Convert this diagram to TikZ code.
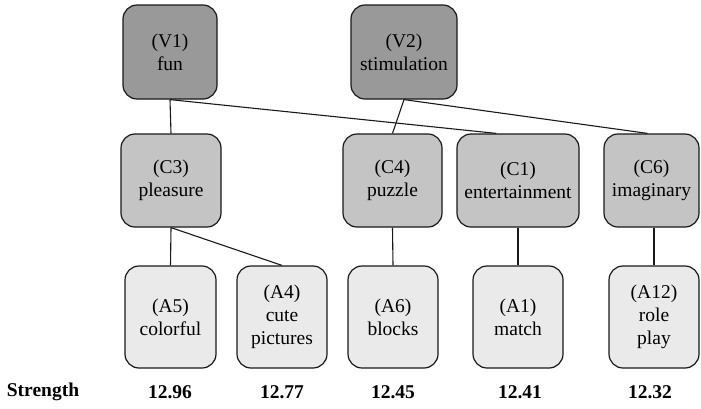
\documentclass[tikz,border=0pt]{standalone}
\usepackage{fontspec}
\setmainfont{Liberation Serif}
\definecolor{vfill}{RGB}{153,153,153}
\definecolor{cfill}{RGB}{196,196,196}
\definecolor{afill}{RGB}{234,234,234}
\definecolor{edge}{RGB}{25,25,25}
\begin{document}
\begin{tikzpicture}[x=1pt,y=-1pt,
  box/.style={draw=edge,line width=1.2pt,rounded corners=14pt,inner sep=0pt,
    align=center,font=\fontsize{19.5}{23}\selectfont,text=black},
  vbox/.style={box,fill=vfill,minimum height=94pt},
  cbox/.style={box,fill=cfill,minimum height=93pt},
  abox/.style={box,fill=afill,minimum height=102pt,minimum width=90pt},
  link/.style={draw=edge,line width=1.1pt},
  strength/.style={font=\fontsize{19.5}{23}\selectfont\bfseries,text=black}]
\useasboundingbox (0,0) rectangle (701,408);
% values
\node[vbox,minimum width=94pt]  (V1) at (170,52) {(V1)\\fun};
\node[vbox,minimum width=106pt] (V2) at (404,52) {(V2)\\stimulation};
% consequences
\node[cbox,minimum width=100pt] (C3) at (171,180.5) {(C3)\\pleasure};
\node[cbox,minimum width=99pt]  (C4) at (392.5,180.5) {(C4)\\puzzle};
\node[cbox,minimum width=122pt] (C1) at (518,180.5) {(C1)\\entertainment};
\node[cbox,minimum width=95pt]  (C6) at (651.5,180.5) {(C6)\\imaginary};
% attributes
\node[abox,minimum width=91pt] (A5) at (170.5,317) {(A5)\\colorful};
\node[abox] (A4) at (282,317) {(A4)\\cute\\pictures};
\node[abox] (A6) at (393,317) {(A6)\\blocks};
\node[abox] (A1) at (518,317) {(A1)\\match};
\node[abox] (A12) at (654,317) {(A12)\\role\\play};
% links
\draw[link] (V1.south) -- (C3.north);
\draw[link] (V1.south) -- ([xshift=40pt]C1.north west);
\draw[link] (V2.south) -- (C4.north);
\draw[link] (V2.south) -- ([xshift=-4pt]C6.north);
\draw[link] (C3.south) -- (A5.north);
\draw[link] (C3.south) -- (A4.north);
\draw[link] (C4.south) -- (A6.north);
\draw[link] (C1.south) -- (A1.north);
\draw[link] (A12.north |- C6.south) -- (A12.north);
% strength row
\node[strength] (S)  at (43,392) {Strength};
\node[strength] (S5) at (170,392) {12.96};
\node[strength] (S4) at (282,392) {12.77};
\node[strength] (S6) at (393,392) {12.45};
\node[strength] (S1) at (520,392) {12.41};
\node[strength] (S12) at (650,392) {12.32};
\end{tikzpicture}
\end{document}
